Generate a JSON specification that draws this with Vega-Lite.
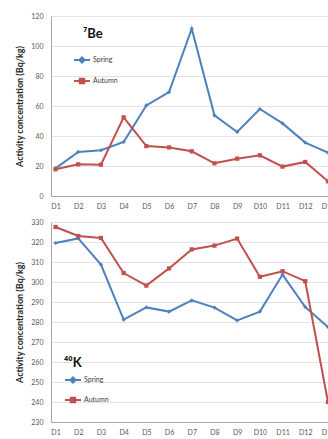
{
  "$schema": "https://vega.github.io/schema/vega-lite/v6.json",
  "padding": {"left": 15, "top": 12, "right": 0, "bottom": 0},
  "background": "white",
  "spacing": 9,
  "resolve": {"scale": {"color": "independent"}, "legend": {"color": "independent"}},
  "config": {
    "font": "Lato",
    "view": {"stroke": null},
    "axis": {
      "labelFont": "Lato", "labelFontSize": 7, "labelColor": "#595959",
      "domainColor": "#a6a6a6", "gridColor": "#e3e3e3", "ticks": false,
      "titleFont": "Lato", "titleFontSize": 9, "titleFontWeight": "bold", "titleColor": "#262626"
    },
    "legend": {
      "orient": "none", "labelFont": "Lato", "labelFontSize": 7, "labelColor": "#404040",
      "titleFont": "Lato", "titleFontWeight": "bold", "titleColor": "#111111", "titleFontSize": 13,
      "symbolSize": 256, "symbolStrokeWidth": 2, "labelOffset": 2
    }
  },
  "datasets": {
    "be": [
      {"site": "D1", "season": "Spring", "value": 18.4},
      {"site": "D2", "season": "Spring", "value": 29.4},
      {"site": "D3", "season": "Spring", "value": 30.5},
      {"site": "D4", "season": "Spring", "value": 36},
      {"site": "D5", "season": "Spring", "value": 60.4},
      {"site": "D6", "season": "Spring", "value": 69.3},
      {"site": "D7", "season": "Spring", "value": 111.5},
      {"site": "D8", "season": "Spring", "value": 53.8},
      {"site": "D9", "season": "Spring", "value": 42.7},
      {"site": "D10", "season": "Spring", "value": 58},
      {"site": "D11", "season": "Spring", "value": 48.4},
      {"site": "D12", "season": "Spring", "value": 35.6},
      {"site": "D13", "season": "Spring", "value": 28.9},
      {"site": "D1", "season": "Autumn", "value": 17.8},
      {"site": "D2", "season": "Autumn", "value": 21.1},
      {"site": "D3", "season": "Autumn", "value": 20.9},
      {"site": "D4", "season": "Autumn", "value": 52.4},
      {"site": "D5", "season": "Autumn", "value": 33.3},
      {"site": "D6", "season": "Autumn", "value": 32.4},
      {"site": "D7", "season": "Autumn", "value": 29.8},
      {"site": "D8", "season": "Autumn", "value": 21.8},
      {"site": "D9", "season": "Autumn", "value": 24.9},
      {"site": "D10", "season": "Autumn", "value": 27.1},
      {"site": "D11", "season": "Autumn", "value": 19.6},
      {"site": "D12", "season": "Autumn", "value": 22.7},
      {"site": "D13", "season": "Autumn", "value": 9.8}
    ],
    "k": [
      {"site": "D1", "season": "Spring", "value": 319.5},
      {"site": "D2", "season": "Spring", "value": 321.8},
      {"site": "D3", "season": "Spring", "value": 308.7},
      {"site": "D4", "season": "Spring", "value": 281.2},
      {"site": "D5", "season": "Spring", "value": 287.3},
      {"site": "D6", "season": "Spring", "value": 285.2},
      {"site": "D7", "season": "Spring", "value": 290.8},
      {"site": "D8", "season": "Spring", "value": 287.2},
      {"site": "D9", "season": "Spring", "value": 280.8},
      {"site": "D10", "season": "Spring", "value": 285.2},
      {"site": "D11", "season": "Spring", "value": 303.7},
      {"site": "D12", "season": "Spring", "value": 287.5},
      {"site": "D13", "season": "Spring", "value": 277.5},
      {"site": "D1", "season": "Autumn", "value": 327.5},
      {"site": "D2", "season": "Autumn", "value": 323},
      {"site": "D3", "season": "Autumn", "value": 322},
      {"site": "D4", "season": "Autumn", "value": 304.5},
      {"site": "D5", "season": "Autumn", "value": 298.2},
      {"site": "D6", "season": "Autumn", "value": 306.8},
      {"site": "D7", "season": "Autumn", "value": 316.3},
      {"site": "D8", "season": "Autumn", "value": 318.2},
      {"site": "D9", "season": "Autumn", "value": 321.7},
      {"site": "D10", "season": "Autumn", "value": 302.6},
      {"site": "D11", "season": "Autumn", "value": 305.4},
      {"site": "D12", "season": "Autumn", "value": 300.4},
      {"site": "D13", "season": "Autumn", "value": 240}
    ]
  },
  "vconcat": [
    {
      "width": 281.5,
      "height": 180,
      "data": {"name": "be"},
      "encoding": {
        "x": {"field": "site", "type": "ordinal",
              "sort": ["D1","D2","D3","D4","D5","D6","D7","D8","D9","D10","D11","D12","D13"],
              "scale": {"type": "point", "padding": 0.2},
              "axis": {"title": null, "labelAngle": 0, "labelPadding": 6, "grid": false}},
        "y": {"field": "value", "type": "quantitative",
              "scale": {"domain": [0, 120], "nice": false},
              "axis": {"values": [0, 20, 40, 60, 80, 100, 120], "title": "Activity concentration (Bq/kg)", "labelPadding": 8, "titlePadding": 6}},
        "color": {"field": "season", "type": "nominal",
                  "scale": {"domain": ["Spring", "Autumn"], "range": ["#4F81BD", "#C0504D"]},
                  "legend": {"title": "⁷Be", "legendX": 22, "legendY": 12, "rowPadding": 5, "titlePadding": 10,
                    "encode": {
                      "title": {"update": {"dx": {"value": 10}}},
                      "symbols": {"update": {
                        "shape": {"signal": "datum.value === 'Spring' ? 'M-1,0H1M0,-0.32L0.32,0L0,0.32L-0.32,0Z' : 'M-1,0H1M-0.28,-0.28H0.28V0.28H-0.28Z'"},
                        "fill": {"signal": "datum.value === 'Spring' ? '#4F81BD' : '#C0504D'"},
                        "stroke": {"signal": "datum.value === 'Spring' ? '#4F81BD' : '#C0504D'"},
                        "strokeWidth": {"value": 2}
                      }}
                    }}}
      },
      "layer": [
        {"mark": {"type": "line", "strokeWidth": 2}},
        {"transform": [{"filter": "datum.season === 'Spring'"}],
         "mark": {"type": "point", "shape": "diamond", "filled": true, "opacity": 1, "size": 18}},
        {"transform": [{"filter": "datum.season === 'Autumn'"}],
         "mark": {"type": "point", "shape": "square", "filled": true, "opacity": 1, "size": 18}}
      ]
    },
    {
      "width": 281.5,
      "height": 200,
      "data": {"name": "k"},
      "encoding": {
        "x": {"field": "site", "type": "ordinal",
              "sort": ["D1","D2","D3","D4","D5","D6","D7","D8","D9","D10","D11","D12","D13"],
              "scale": {"type": "point", "padding": 0.2},
              "axis": {"title": null, "labelAngle": 0, "labelPadding": 6, "grid": false}},
        "y": {"field": "value", "type": "quantitative",
              "scale": {"domain": [230, 330], "nice": false},
              "axis": {"values": [230, 240, 250, 260, 270, 280, 290, 300, 310, 320, 330], "title": "Activity concentration (Bq/kg)", "labelPadding": 8, "titlePadding": 6}},
        "color": {"field": "season", "type": "nominal",
                  "scale": {"domain": ["Spring", "Autumn"], "range": ["#4F81BD", "#C0504D"]},
                  "legend": {"title": "⁴⁰K", "legendX": 13, "legendY": 135, "rowPadding": 4, "titlePadding": 1,
                    "encode": {
                      "symbols": {"update": {
                        "shape": {"signal": "datum.value === 'Spring' ? 'M-1,0H1M0,-0.32L0.32,0L0,0.32L-0.32,0Z' : 'M-1,0H1M-0.28,-0.28H0.28V0.28H-0.28Z'"},
                        "fill": {"signal": "datum.value === 'Spring' ? '#4F81BD' : '#C0504D'"},
                        "stroke": {"signal": "datum.value === 'Spring' ? '#4F81BD' : '#C0504D'"},
                        "strokeWidth": {"value": 2}
                      }}
                    }}}
      },
      "layer": [
        {"mark": {"type": "line", "strokeWidth": 2}},
        {"transform": [{"filter": "datum.season === 'Spring'"}],
         "mark": {"type": "point", "shape": "diamond", "filled": true, "opacity": 1, "size": 18}},
        {"transform": [{"filter": "datum.season === 'Autumn'"}],
         "mark": {"type": "point", "shape": "square", "filled": true, "opacity": 1, "size": 18}}
      ]
    }
  ]
}
